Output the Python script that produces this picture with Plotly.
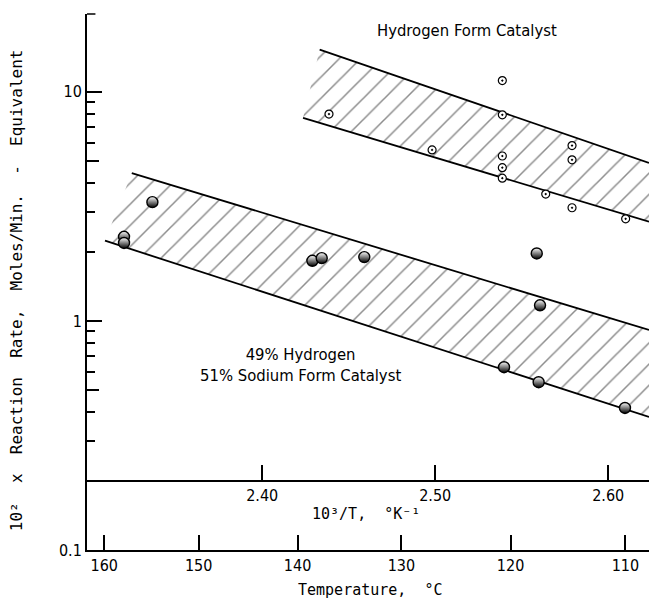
import math
import plotly.graph_objects as go

# ---- data (x = 10^3/T in K^-1, y = 10^2 x reaction rate) ----
h_inv_t = [2.4386, 2.4982, 2.5388, 2.5388, 2.5388, 2.5388, 2.5388,
           2.5639, 2.5791, 2.5791, 2.5791, 2.6101]
h_rate = [8.0, 5.58, 11.2, 7.94, 5.25, 4.67, 4.20,
          3.58, 5.83, 5.05, 3.12, 2.79]

hs_inv_t = [2.3201, 2.3201, 2.3365, 2.4290, 2.4344, 2.4590,
            2.5587, 2.5606, 2.5398, 2.5598, 2.6097]
hs_rate = [2.33, 2.19, 3.30, 1.83, 1.88, 1.90,
           1.97, 1.17, 0.628, 0.540, 0.417]

# band edge lines (endpoints)
h_up_x, h_up_y = [2.4332, 2.6236], [15.3, 4.90]
h_lo_x, h_lo_y = [2.4236, 2.6236], [7.70, 2.71]
hs_up_x, hs_up_y = [2.3246, 2.6236], [4.42, 0.913]
hs_lo_x, hs_lo_y = [2.3091, 2.6236], [2.24, 0.381]

temp_ticks = [160, 150, 140, 130, 120, 110]
inv_ticks = [2.40, 2.50, 2.60]
rate_ticks = [0.1, 1, 10]
rate_ticktext = ["0.1", "1", "10"]
rate_minor = [0.3, 0.4, 0.6, 0.7, 0.8, 0.9, 2, 3, 4, 6, 7, 8, 9]
rate_mid = [0.5, 5]
inner_axis_rate = 0.2

x_range = [2.2987, 2.6236]
y_range_log = [-1, 1.34]

NARROW = "Liberation Sans Narrow, DejaVu Sans Condensed, Arial Narrow, sans-serif"
MONO = "DejaVu Sans Mono, Liberation Mono, monospace"

fig = go.Figure()

def band(ux, uy, lx, ly):
    xs = [ux[0], ux[1], lx[1], lx[0], ux[0]]
    ys = [uy[0], uy[1], ly[1], ly[0], uy[0]]
    fig.add_trace(go.Scatter(
        x=xs, y=ys, mode="none", fill="toself",
        fillcolor="rgba(0,0,0,0)",
        fillpattern=dict(shape="/", fgcolor="black", bgcolor="rgba(0,0,0,0)",
                         fgopacity=0.45, size=15, solidity=0.1),
        hoverinfo="skip", showlegend=False))

band(h_up_x, h_up_y, h_lo_x, h_lo_y)
band(hs_up_x, hs_up_y, hs_lo_x, hs_lo_y)

for lx, ly in [(h_up_x, h_up_y), (h_lo_x, h_lo_y), (hs_up_x, hs_up_y), (hs_lo_x, hs_lo_y)]:
    fig.add_trace(go.Scatter(x=lx, y=ly, mode="lines",
                             line=dict(color="black", width=1.8),
                             showlegend=False, hoverinfo="skip"))

fig.add_trace(go.Scatter(
    x=h_inv_t, y=h_rate, mode="markers", showlegend=False,
    marker=dict(symbol="circle-dot", size=8, color="white",
                line=dict(color="black", width=1.2))))

fig.add_trace(go.Scatter(
    x=hs_inv_t, y=hs_rate, mode="markers", showlegend=False,
    marker=dict(symbol="circle", size=11, color="white",
                gradient=dict(type="vertical", color="black"),
                line=dict(color="black", width=1.4))))

# invisible traces to activate the inner 10^3/T axis and the helper y axis
fig.add_trace(go.Scatter(x=x_range, y=[1, 1], xaxis="x2", yaxis="y",
                         mode="none", showlegend=False, hoverinfo="skip"))
fig.add_trace(go.Scatter(x=x_range, y=[1, 1], xaxis="x", yaxis="y2",
                         mode="none", showlegend=False, hoverinfo="skip"))

temp_vals = [1000.0 / (t + 273.15) for t in temp_ticks]
inner_pos = (math.log10(inner_axis_rate) - y_range_log[0]) / (y_range_log[1] - y_range_log[0])

def note(text, x, y, size, family, angle=0):
    return dict(text=text, xref="paper", yref="paper", x=x, y=y,
                xanchor="center", yanchor="middle", showarrow=False,
                textangle=angle, font=dict(family=family, size=size))

fig.update_layout(
    width=649, height=600,
    margin=dict(l=87, r=0, t=14, b=50),
    paper_bgcolor="white", plot_bgcolor="white",
    font=dict(family=NARROW, size=16, color="black"),
    xaxis=dict(range=x_range, tickmode="array", tickvals=temp_vals,
               ticktext=[str(t) for t in temp_ticks],
               ticks="inside", ticklen=15, tickwidth=2, tickcolor="black",
               showline=True, linecolor="black", linewidth=2,
               showgrid=False, zeroline=False,
               tickfont=dict(family=NARROW, size=16)),
    xaxis2=dict(range=x_range, overlaying="x", anchor="free",
                position=inner_pos,
                side="bottom", tickmode="array", tickvals=inv_ticks,
                ticktext=["%.2f" % v for v in inv_ticks],
                ticks="inside", ticklen=15, tickwidth=2, tickcolor="black",
                showline=True, linecolor="black", linewidth=2,
                showgrid=False, zeroline=False,
                tickfont=dict(family=NARROW, size=16)),
    yaxis=dict(type="log", range=y_range_log, tickmode="array",
               tickvals=rate_ticks, ticktext=rate_ticktext,
               ticks="inside", ticklen=15, tickwidth=2, tickcolor="black",
               minor=dict(tickvals=rate_minor, ticks="inside", ticklen=8,
                          tickwidth=1.5, tickcolor="black", showgrid=False),
               showline=True, linecolor="black", linewidth=2,
               showgrid=False, zeroline=False,
               tickfont=dict(family=NARROW, size=16)),
    yaxis2=dict(type="log", range=y_range_log, overlaying="y", side="left",
                anchor="x", tickmode="array", tickvals=rate_mid,
                showticklabels=False, ticks="inside", ticklen=12,
                tickwidth=1.8, tickcolor="black", showline=False,
                showgrid=False, zeroline=False),
    shapes=[dict(type="line", xref="paper", yref="paper", x0=0, x1=0.015,
                 y0=1, y1=1, line=dict(color="black", width=1.5))],
    annotations=[
        note("Hydrogen Form Catalyst", 0.676, 0.97, 16.5, NARROW),
        note("49% Hydrogen<br>51% Sodium Form Catalyst", 0.38, 0.345, 16.5, NARROW),
        note("10\u00b2  x  Reaction  Rate,  Moles/Min.  -  Equivalent",
             -0.126, 0.485, 16, MONO, angle=-90),
        note("Temperature,  \u00b0C", 0.505, -0.075, 15, MONO),
        note("10\u00b3/T,  \u00b0K\u207b\u00b9", 0.497, 0.068, 15, MONO),
    ],
)

fig.write_html("out.html", config={"displayModeBar": False},
               post_script="document.body.style.margin='0';")
